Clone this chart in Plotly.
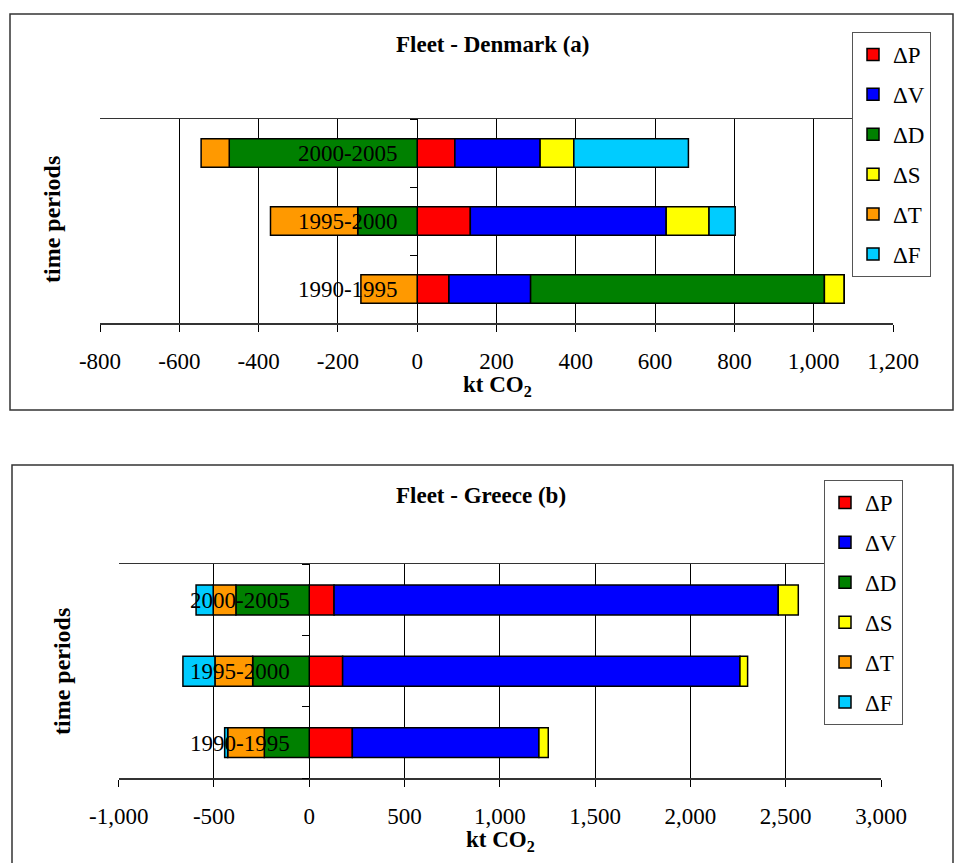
import plotly.graph_objects as go

W, H = 963, 863
FONT = "Liberation Serif"

periods = ["1990-1995", "1995-2000", "2000-2005"]
components = ["ΔP", "ΔV", "ΔD", "ΔS", "ΔT", "ΔF"]
colors = ["#FF0000", "#0000FF", "#008000", "#FFFF00", "#FF9900", "#00CCFF"]

# Fleet - Denmark (a), kt CO2
dk_P = [80, 134, 95]
dk_V = [206, 494, 215]
dk_D = [741, -150, -474]
dk_S = [50, 108, 85]
dk_T = [-142, -220, -71]
dk_F = [0, 66, 289]

# Fleet - Greece (b), kt CO2
gr_P = [226, 175, 130]
gr_V = [979, 2085, 2331]
gr_D = [-236, -297, -385]
gr_S = [49, 40, 105]
gr_T = [-192, -198, -119]
gr_F = [-16, -168, -90]

dk_ticks = [-800, -600, -400, -200, 0, 200, 400, 600, 800, 1000, 1200]
dk_ticktext = ["-800", "-600", "-400", "-200", "0", "200", "400", "600", "800", "1,000", "1,200"]
gr_ticks = [-1000, -500, 0, 500, 1000, 1500, 2000, 2500, 3000]
gr_ticktext = ["-1,000", "-500", "0", "500", "1,000", "1,500", "2,000", "2,500", "3,000"]

dk_series = [dk_P, dk_V, dk_D, dk_S, dk_T, dk_F]
gr_series = [gr_P, gr_V, gr_D, gr_S, gr_T, gr_F]


def px_x(p):
    return p / W


def px_y(p):
    return 1 - p / H


fig = go.Figure()

for i, (name, col) in enumerate(zip(components, colors)):
    fig.add_trace(go.Bar(
        y=periods, x=dk_series[i], orientation="h", name=name,
        marker=dict(color=col, line=dict(color="black", width=1.5)),
        xaxis="x", yaxis="y", legend="legend", legendgroup="a" + str(i),
    ))
for i, (name, col) in enumerate(zip(components, colors)):
    fig.add_trace(go.Bar(
        y=periods, x=gr_series[i], orientation="h", name=name,
        marker=dict(color=col, line=dict(color="black", width=1.5)),
        xaxis="x2", yaxis="y2", legend="legend2", legendgroup="b" + str(i),
    ))

# domains (pixels -> paper)
xa_dom = [px_x(100), px_x(893)]
ya_dom = [px_y(323), px_y(119)]
xb_dom = [px_x(118.7), px_x(881)]
yb_dom = [px_y(778.3), px_y(564.3)]
xa_rng = [-800, 1200]
xb_rng = [-1000, 3000]


def zero_pos(dom, rng):
    return dom[0] + (0 - rng[0]) / (rng[1] - rng[0]) * (dom[1] - dom[0])


tickfont = dict(family=FONT, size=23, color="black")

xcommon = dict(
    showgrid=True, gridcolor="black", gridwidth=1, zeroline=False,
    showline=True, linecolor="#333333", linewidth=1.5, mirror=True,
    ticks="outside", ticklen=7, tickcolor="black", tickfont=tickfont,
    ticklabelstandoff=10, fixedrange=True, automargin=False,
)
ycommon = dict(
    type="category", categoryorder="array", categoryarray=periods,
    showgrid=False, zeroline=False, showline=True, linecolor="black", linewidth=1,
    ticks="outside", tickson="boundaries", ticklen=7, tickcolor="black",
    tickfont=tickfont, ticklabelstandoff=15, anchor="free", automargin=False,
    fixedrange=True,
)

legend_common = dict(
    xanchor="left", yanchor="top",
    bordercolor="#555555", borderwidth=1, bgcolor="white",
    font=dict(family=FONT, size=23, color="black"),
    traceorder="grouped", tracegroupgap=7, itemwidth=30,
)

fig.update_layout(
    width=W, height=H,
    margin=dict(l=0, r=0, t=0, b=0, pad=0, autoexpand=False),
    paper_bgcolor="white", plot_bgcolor="white",
    barmode="relative", bargap=0.58,
    font=dict(family=FONT, color="black"),
    xaxis=dict(domain=xa_dom, range=xa_rng, anchor="y", tickvals=dk_ticks,
               ticktext=dk_ticktext, **xcommon),
    yaxis=dict(domain=ya_dom, position=zero_pos(xa_dom, xa_rng), **ycommon),
    xaxis2=dict(domain=xb_dom, range=xb_rng, anchor="y2", tickvals=gr_ticks,
                ticktext=gr_ticktext, **xcommon),
    yaxis2=dict(domain=yb_dom, position=zero_pos(xb_dom, xb_rng), **ycommon),
    legend=dict(x=px_x(852), y=px_y(32), **legend_common),
    legend2=dict(x=px_x(824), y=px_y(480), **legend_common),
    shapes=[
        dict(type="rect", xref="paper", yref="paper", x0=px_x(10), x1=px_x(953),
             y0=px_y(410), y1=px_y(14), line=dict(color="#333333", width=1.5), layer="below"),
        dict(type="rect", xref="paper", yref="paper", x0=px_x(12), x1=px_x(953),
             y0=px_y(880), y1=px_y(465), line=dict(color="#333333", width=1.5), layer="below"),
    ],
    showlegend=True,
)

ann = []
ann.append(dict(text="<b>Fleet - Denmark (a)</b>", x=px_x(493), y=px_y(44),
                font=dict(size=23)))
ann.append(dict(text="<b>Fleet - Greece (b)</b>", x=px_x(481), y=px_y(495),
                font=dict(size=23)))
ann.append(dict(text="<b>time periods</b>", x=px_x(52), y=px_y(220), textangle=-90,
                font=dict(size=24)))
ann.append(dict(text="<b>time periods</b>", x=px_x(62), y=px_y(672), textangle=-90,
                font=dict(size=24)))
ann.append(dict(text="<b>kt CO<sub>2</sub></b>", x=px_x(497), y=px_y(386),
                font=dict(size=23)))
ann.append(dict(text="<b>kt CO<sub>2</sub></b>", x=px_x(500), y=px_y(841),
                font=dict(size=23)))
for a in ann:
    a.update(xref="paper", yref="paper", showarrow=False, xanchor="center", yanchor="middle")
    a["font"].update(family=FONT, color="black")
fig.update_layout(annotations=ann)

fig.write_html(
    "out.html",
    config={"displayModeBar": False, "staticPlot": True},
    post_script="document.body.style.margin='0px';document.body.style.overflow='hidden';",
)
